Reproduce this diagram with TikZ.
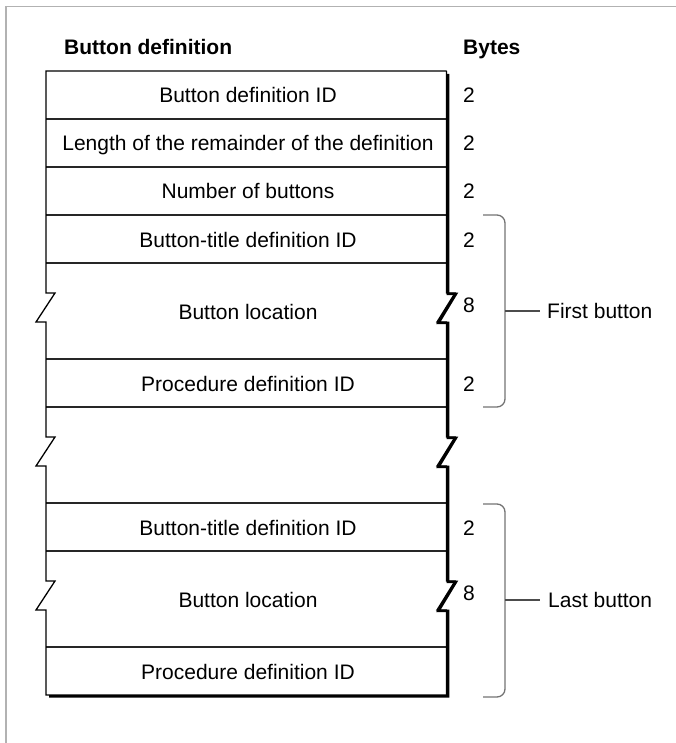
\documentclass[tikz,border=0pt]{standalone}
\usepackage{fontspec}
\setmainfont{Liberation Sans}
\begin{document}
\begin{tikzpicture}[x=1pt,y=-1pt,
  txt/.style={inner sep=0pt,font=\fontsize{21}{25}\selectfont},
  hdr/.style={txt,font=\fontsize{21}{25}\selectfont\bfseries,anchor=base west},
  rowtxt/.style={txt,anchor=base},
  bytetxt/.style={txt,anchor=base west},
  edge/.style={line width=1.3pt,black,line join=miter},
  rowline/.style={line width=1.3pt,black!85},
  shadowline/.style={line width=2.6pt,black,line join=miter},
  brace/.style={line width=1.3pt,black!55,rounded corners=8pt},
  tick/.style={line width=1.1pt,black!70},
  framel/.style={line width=1.5pt,black!30}]
\useasboundingbox (0,0) rectangle (676,743);
% frame
\draw[framel] (6,743) -- (6,6.5) -- (676,6.5);
% headings
\node[hdr] (h1) at (64,55) {Button definition};
\node[hdr] (h2) at (463,55) {Bytes};
% row lines
\foreach \yy in {119,167,215,263,359,407,503,551,647}
  \draw[rowline] (46,\yy) -- (446.5,\yy);
% box outline
\draw[edge] (446.5,71) -- (46,71) -- (46,293) -- (55,293) -- (36,322) -- (46,322)
  -- (46,437) -- (55,437) -- (36,466) -- (46,466)
  -- (46,581) -- (55,581) -- (36,610) -- (46,610) -- (46,695) -- (446.5,695);
\draw[edge] (446.5,71) -- (446.5,293) -- (455,293) -- (437,322) -- (446.5,322)
  -- (446.5,437) -- (455,437) -- (437,466) -- (446.5,466)
  -- (446.5,581) -- (455,581) -- (437,610) -- (446.5,610) -- (446.5,695);
% shadow
\draw[shadowline] (448,74) -- (448,293.8) -- (456,293.8) -- (438.5,322.8) -- (448,322.8)
  -- (448,437.8) -- (456,437.8) -- (438.5,466.8) -- (448,466.8)
  -- (448,581.8) -- (456,581.8) -- (438.5,610.8) -- (448,610.8)
  -- (448,696.3) -- (49,696.3);
% row texts
\node[rowtxt] (r1) at (248,103) {Button definition ID};
\node[rowtxt] (r2) at (248,151) {Length of the remainder of the definition};
\node[rowtxt] (r3) at (248,199) {Number of buttons};
\node[rowtxt] (r4) at (248,247) {Button-title definition ID};
\node[rowtxt] (r5) at (248,319) {Button location};
\node[rowtxt] (r6) at (248,391) {Procedure definition ID};
\node[rowtxt] (r8) at (248,535) {Button-title definition ID};
\node[rowtxt] (r9) at (248,607) {Button location};
\node[rowtxt] (r10) at (248,679) {Procedure definition ID};
% bytes
\node[bytetxt] (b1) at (463,103) {2};
\node[bytetxt] (b2) at (463,151) {2};
\node[bytetxt] (b3) at (463,199) {2};
\node[bytetxt] (b4) at (463,247) {2};
\node[bytetxt] (b5) at (463,312) {8};
\node[bytetxt] (b6) at (463,391) {2};
\node[bytetxt] (b8) at (463,535) {2};
\node[bytetxt] (b9) at (463,600) {8};
% braces
\draw[brace] (483,215) -- (505,215) -- (505,407) -- (483,407);
\draw[brace] (483,504) -- (505,504) -- (505,697) -- (483,697);
\coordinate (m1) at (505,311);
\coordinate (m2) at (505,600);
\node[txt,anchor=west] (l1) at (547,311) {First button};
\node[txt,anchor=west] (l2) at (548,600) {Last button};
\draw[tick] (m1) -- ([xshift=-7pt]l1.west);
\draw[tick] (m2) -- ([xshift=-8pt]l2.west);
\end{tikzpicture}
\end{document}
